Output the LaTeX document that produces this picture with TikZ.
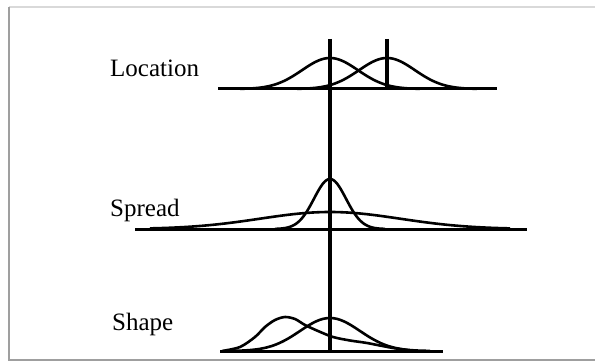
\documentclass[tikz,border=0pt]{standalone}
\usepackage{fontspec}
\setmainfont{Liberation Serif}
\usetikzlibrary{positioning}
\tikzset{
  baseline axis/.style={line width=3pt},
  curve/.style={line width=2.6pt, line join=round},
  meanline/.style={line width=4pt},
  panellabel/.style={font=\fontsize{25}{30}\selectfont, inner sep=0pt, anchor=base west}
}

\begin{document}
\begin{tikzpicture}[x=1pt, y=-1pt]
    \useasboundingbox (0,0) rectangle (595,361);

    % Frame
    \draw[gray!30, line width=1.5pt] (9,7) -- (595,7);
    \draw[gray!75, line width=1.5pt] (9,7) -- (9,360) -- (595,360);

    % Labels
    \node[panellabel] (location) at (110,77) {Location};
    \node[panellabel] (spread) at (110,216) {Spread};
    \node[panellabel] (shape) at (112,330) {Shape};

    % Location: shifted mean
    \draw[baseline axis] (218,89) -- (497,89);
    \draw[curve] plot[domain=240:420, samples=70] (\x, {89-31*exp(-0.5*((\x-330)/28)^2)});
    \draw[curve] plot[domain=297:477, samples=70] (\x, {89-31*exp(-0.5*((\x-387)/28)^2)});
    \draw[line width=3.2pt] (387,39) -- (387,89);

    % Spread: narrow and wide
    \draw[baseline axis] (135,229) -- (527,229);
    \draw[curve] plot[domain=275:385, samples=70] (\x, {229-50*exp(-0.5*((\x-330)/16)^2)});
    \draw[curve] plot[domain=150:510, samples=90] (\x, {229-17*exp(-0.5*((\x-330)/70)^2)});

    % Shape: symmetric and skewed
    \draw[baseline axis] (220,351) -- (443,351);
    \draw[curve] plot[domain=230:430, samples=70] (\x, {351-33*exp(-0.5*((\x-330)/30)^2)});
    \draw[curve] plot[smooth] coordinates {(222,351) (240,347) (255,337) (265,327) (275,320) (285,317) (295,319) (305,325) (318,331) (333,337) (350,340.5) (367,343) (393,348) (415,351)};

    % Common centre line
    \draw[meanline] (330,39) -- (330,351);
\end{tikzpicture}
\end{document}
